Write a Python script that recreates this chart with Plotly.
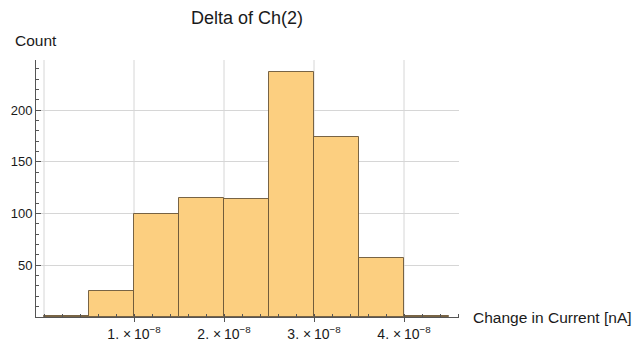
import plotly.graph_objects as go

# Histogram of channel-2 current changes: bin edges and counts
bin_edges = [0.0, 0.5e-8, 1.0e-8, 1.5e-8, 2.0e-8, 2.5e-8, 3.0e-8, 3.5e-8, 4.0e-8, 4.5e-8]
counts = [1, 25, 100, 115, 114, 237, 174, 57, 1]

x_tickvals = [1e-8, 2e-8, 3e-8, 4e-8]
x_ticktext = ["1. \u00d7\u200910<sup>\u22128</sup>", "2. \u00d7\u200910<sup>\u22128</sup>",
              "3. \u00d7\u200910<sup>\u22128</sup>", "4. \u00d7\u200910<sup>\u22128</sup>"]
x_gridvals = [0.0, 1e-8, 2e-8, 3e-8, 4e-8]
y_tickvals = [50, 100, 150, 200]

centers = [(a + b) / 2 for a, b in zip(bin_edges[:-1], bin_edges[1:])]
widths = [b - a for a, b in zip(bin_edges[:-1], bin_edges[1:])]

FONT = "Liberation Sans, Arial, sans-serif"
TXT = "#1a1a1a"

fig = go.Figure()
fig.add_trace(go.Bar(
    x=centers, y=counts, width=widths,
    marker=dict(color="rgb(252,207,128)",
                line=dict(color="rgba(105,85,55,0.9)", width=1)),
    hoverinfo="x+y",
))

fig.update_layout(
    width=635, height=343,
    margin=dict(l=36, r=176, t=60, b=26, autoexpand=False),
    paper_bgcolor="white", plot_bgcolor="white",
    showlegend=False, bargap=0,
    font=dict(family=FONT, size=13, color=TXT),
    title=dict(text="Delta of Ch(2)", x=247 / 635, xanchor="center",
               y=1 - 18 / 343, yanchor="middle",
               font=dict(family=FONT, size=18, color=TXT)),
    xaxis=dict(
        range=[-0.089e-8, 4.611e-8], automargin=False,
        tickvals=x_tickvals, ticktext=x_ticktext,
        showgrid=False, zeroline=False,
        showline=True, linecolor="#555", linewidth=1,
        ticks="outside", ticklen=4, tickcolor="#555",
        tickfont=dict(family=FONT, size=14, color=TXT),
        minor=dict(dtick=0.2e-8, tick0=0, ticks="inside", ticklen=3,
                   tickcolor="#555", showgrid=False),
    ),
    yaxis=dict(
        range=[0, 248.5], automargin=False,
        tickvals=y_tickvals,
        showgrid=True, gridcolor="#d6d6d6", gridwidth=1,
        zeroline=False,
        showline=True, linecolor="#555", linewidth=1,
        ticks="inside", ticklen=5, tickcolor="#555",
        tickfont=dict(family=FONT, size=13, color=TXT),
        minor=dict(dtick=10, tick0=0, ticks="inside", ticklen=3,
                   tickcolor="#555", showgrid=False),
    ),
)

# Vertical grid lines at the labelled positions (including the origin)
for gx in x_gridvals:
    fig.add_shape(type="line", xref="x", yref="paper", x0=gx, x1=gx, y0=0, y1=1,
                  line=dict(color="#d6d6d6", width=1), layer="below")

fig.add_annotation(text="Count", xref="paper", yref="paper",
                   x=-23 / 423, y=1 + 20 / 257, xanchor="left", yanchor="middle",
                   showarrow=False, font=dict(family=FONT, size=15.5, color=TXT))
fig.add_annotation(text="Change in Current [nA]", xref="paper", yref="paper",
                   x=1 + 12 / 423, y=0, xanchor="left", yanchor="middle",
                   showarrow=False, font=dict(family=FONT, size=15.5, color=TXT))

fig.write_html("out.html")
